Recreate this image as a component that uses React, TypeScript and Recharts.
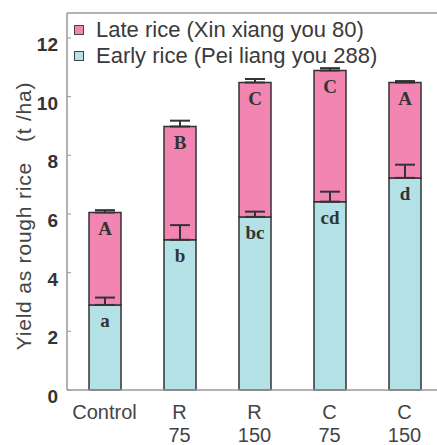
import { Bar, BarChart, ErrorBar, LabelList, Legend, XAxis, YAxis } from "recharts";

const categories = ["Control", "R\n75", "R\n150", "C\n75", "C\n150"];
const earlyYield = [2.9, 5.12, 5.9, 6.42, 7.23];
const lateYield = [3.15, 3.86, 4.58, 4.47, 3.25];
const earlyErr = [0.25, 0.5, 0.18, 0.34, 0.45];
const lateErr = [0.08, 0.2, 0.12, 0.08, 0.05];
const earlyLetters = ["a", "b", "bc", "cd", "d"];
const lateLetters = ["A", "B", "C", "C", "A"];
const yTicks = [0, 2, 4, 6, 8, 10, 12];

const PINK = "#f285b2";
const BLUE = "#b3e1e6";
const INK = "#333";
const AXIS = "#9a9a9a";
const SANS = "'Liberation Sans', Arial, sans-serif";
const SERIF = "'Liberation Serif', 'Times New Roman', serif";

const data = categories.map((name, i) => ({
  name,
  early: earlyYield[i],
  late: lateYield[i],
  earlyErr: [0, earlyErr[i]],
  lateErr: [0, lateErr[i]],
  earlyLetter: earlyLetters[i],
  lateLetter: lateLetters[i],
}));

function XTick({ x, y, payload }: any) {
  const lines = String(payload.value).split("\n");
  return (
    <text x={x} y={y + 21} textAnchor="middle" fill="#444" fontSize={20} fontFamily={SANS}>
      {lines.map((l, i) => (
        <tspan key={i} x={x} dy={i === 0 ? 0 : 23}>
          {l}
        </tspan>
      ))}
    </text>
  );
}

function YTick({ x, y, payload }: any) {
  return (
    <g>
      <line x1={67} x2={71} y1={y} y2={y} stroke={AXIS} />
      <text
        x={x}
        y={y + 8}
        textAnchor="end"
        dominantBaseline="middle"
        fill={INK}
        fontSize={19}
        fontWeight="bold"
        fontFamily={SANS}
      >
        {payload.value}
      </text>
    </g>
  );
}

function LegendBox() {
  const items = [
    { label: "Late rice (Xin xiang you 80)", color: PINK },
    { label: "Early rice (Pei liang you 288)", color: BLUE },
  ];
  return (
    <div style={{ fontFamily: SANS, fontSize: 22, color: "#3a3a3a", lineHeight: "26px" }}>
      {items.map((it) => (
        <div key={it.label} style={{ display: "flex", alignItems: "center", height: 26 }}>
          <span
            style={{
              display: "inline-block",
              width: 8,
              height: 8,
              background: it.color,
              border: "1px solid #444",
              marginRight: 12,
            }}
          />
          {it.label}
        </div>
      ))}
    </div>
  );
}

export default function App() {
  return (
    <div style={{ position: "absolute", left: 0, top: 0, width: 437, height: 445, overflow: "hidden", background: "#fff" }}>
      <BarChart
        width={450}
        height={445}
        data={data}
        margin={{ top: 12, right: 8, left: 0, bottom: 0 }}
        barSize={32}
      >
        <XAxis
          dataKey="name"
          xAxisId="main"
          tick={<XTick />}
          tickLine={false}
          axisLine={{ stroke: AXIS, strokeWidth: 1.5 }}
          height={55}
          interval={0}
        />
        <XAxis
          dataKey="name"
          xAxisId="top"
          orientation="top"
          tick={false}
          tickLine={false}
          axisLine={{ stroke: AXIS, strokeWidth: 1.5 }}
          height={1}
        />
        <YAxis
          domain={[0, 12.85]}
          ticks={yTicks}
          width={67}
          tickLine={false}
          tickSize={0}
          tickMargin={9}
          tick={<YTick />}
          axisLine={{ stroke: AXIS, strokeWidth: 1.5 }}
          label={{
            content: () => (
              <text
                x={25}
                y={216}
                transform="rotate(-90 25 216)"
                textAnchor="middle"
                dominantBaseline="middle"
                fill="#444"
                fontSize={21}
                letterSpacing={0.8}
                fontFamily={SANS}
              >
                {"Yield as rough rice\u00a0\u00a0\u00a0(t /ha)"}
              </text>
            ),
          }}
        />
        <Legend
          layout="vertical"
          verticalAlign="middle"
          align="center"
          content={() => <LegendBox />}
          wrapperStyle={{ top: 17, left: 74, width: "auto" }}
        />
        <Bar
          xAxisId="main"
          dataKey="early"
          stackId="yield"
          fill={BLUE}
          stroke={INK}
          strokeWidth={1.5}
          isAnimationActive={false}
        >
          <LabelList
            dataKey="earlyLetter"
            position="insideTop"
            offset={9}
            fill={INK}
            fontSize={19}
            fontWeight="bold"
            fontFamily={SERIF}
          />
        </Bar>
        <Bar
          xAxisId="main"
          dataKey="late"
          stackId="yield"
          fill={PINK}
          stroke={INK}
          strokeWidth={1.5}
          isAnimationActive={false}
        >
          <LabelList
            dataKey="lateLetter"
            position="insideTop"
            offset={9}
            fill={INK}
            fontSize={19}
            fontWeight="bold"
            fontFamily={SERIF}
          />
          <ErrorBar dataKey="lateErr" direction="y" width={10} stroke={INK} strokeWidth={2} />
        </Bar>
        <Bar
          xAxisId="top"
          dataKey="early"
          fill="none"
          stroke="none"
          legendType="none"
          isAnimationActive={false}
        >
          <ErrorBar dataKey="earlyErr" direction="y" width={10} stroke={INK} strokeWidth={2} />
        </Bar>
      </BarChart>
    </div>
  );
}
